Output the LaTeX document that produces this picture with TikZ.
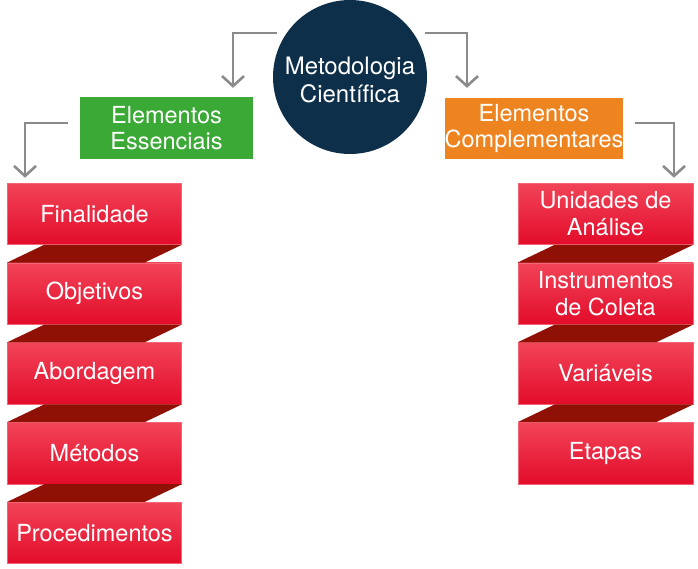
\documentclass[tikz,border=0pt]{standalone}
\usepackage{fontspec}
\setmainfont{TeX Gyre Heros}
\usetikzlibrary{arrows.meta}

\definecolor{navy}{HTML}{0E2F4A}
\definecolor{leafgreen}{HTML}{3AA935}
\definecolor{amber}{HTML}{EE8420}
\definecolor{ribtop}{HTML}{F24458}
\definecolor{ribbot}{HTML}{E20C2A}
\definecolor{ribfold}{HTML}{8F1106}
\definecolor{ribedge}{HTML}{F36676}
\definecolor{arrowgray}{HTML}{8B8B8B}

\begin{document}
\begin{tikzpicture}[x=1pt,y=-1pt,
  labeltext/.style={text=white, align=center, font=\fontsize{23.5}{26.5}\selectfont},
  ribbon/.style={labeltext, rectangle, inner sep=0pt,
    minimum width=174pt, minimum height=61.5pt,
    top color=ribtop, bottom color=ribbot, draw=ribedge, line width=0.6pt},
  catbox/.style={labeltext, rectangle, inner sep=0pt,
    minimum width=173pt, minimum height=62pt},
  fold/.style={fill=ribfold},
  arr/.style={draw=arrowgray, line width=2.6pt,
    -{Straight Barb[length=10pt,width=22pt]}}]

\useasboundingbox (0,0) rectangle (698,568);

% central topic
\node[circle, fill=navy, minimum size=154pt, inner sep=0pt, labeltext,
      font=\fontsize{24}{28.5}\selectfont] (meto) at (350,77) {};
\node[labeltext, font=\fontsize{24}{28.5}\selectfont] (metotext) at (350,80) {Metodologia\\Científica};

% the two categories
\node[catbox, fill=leafgreen] (ess) at (166.5,128) {Elementos\\Essenciais};
\node[catbox, fill=amber, minimum width=174pt, minimum height=61pt] (comp) at (534,128.5) {Elementos\\Complementares};

% left ribbon
\node[ribbon] (fin) at (94.5,213.75) {Finalidade};
\node[ribbon] (obj) at (94.5,293.55) {Objetivos};
\node[ribbon] (abo) at (94.5,373.35) {Abordagem};
\node[ribbon] (met) at (94.5,453.15) {Métodos};
\node[ribbon] (pro) at (94.5,532.95) {Procedimentos};

% right ribbon
\node[ribbon, minimum width=175pt] (uni) at (605.5,213.75) {Unidades de\\Análise};
\node[ribbon, minimum width=175pt] (ins) at (605.5,293.55) {Instrumentos\\de Coleta};
\node[ribbon, minimum width=175pt] (var) at (605.5,373.35) {Variáveis};
\node[ribbon, minimum width=175pt] (eta) at (605.5,453.15) {Etapas};

% folds joining consecutive ribbon segments
\foreach \a/\b in {fin/obj, obj/abo, abo/met, met/pro, uni/ins, ins/var, var/eta}{
  \fill[fold] ([xshift=37pt]\a.south west) -- (\a.south east)
    -- ([xshift=-37pt]\b.north east) -- (\b.north west) -- cycle;
}

% connector end points
\coordinate (s1) at ([xshift=-73pt,yshift=44pt]meto.center);
\coordinate (t1) at ([xshift=66.5pt,yshift=9pt]ess.north);
\coordinate (s2) at ([xshift=75pt,yshift=44pt]meto.center);
\coordinate (t2) at ([xshift=-67pt,yshift=10pt]comp.north);
\coordinate (s3) at ([xshift=-12pt,yshift=5pt]ess.west);
\coordinate (t3) at ([xshift=-69.5pt,yshift=5pt]fin.north);
\coordinate (s4) at ([xshift=11pt,yshift=5.5pt]comp.east);
\coordinate (t4) at ([xshift=68.5pt,yshift=5pt]uni.north);

% connectors
\draw[arr] (s1) -| (t1);
\draw[arr] (s2) -| (t2);
\draw[arr] (s3) -| (t3);
\draw[arr] (s4) -| (t4);

\end{tikzpicture}
\end{document}
